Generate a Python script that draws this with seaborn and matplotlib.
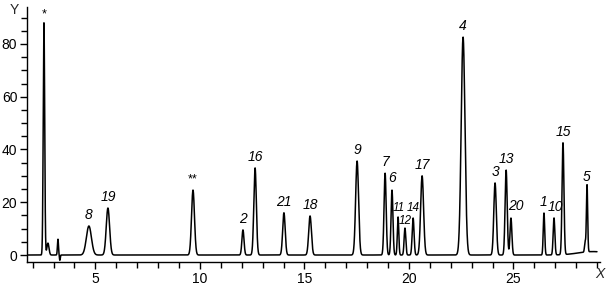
import numpy as np
import pandas as pd
import matplotlib
matplotlib.use("Agg")
import matplotlib.pyplot as plt
import seaborn as sns
from matplotlib.ticker import MultipleLocator

# ---- data ----
peak_labels = ["*", "", "", "", "8", "19", "**", "2", "16", "21", "18", "9", "7", "6",
               "11", "12", "14", "17", "4", "3", "13", "20", "1", "10", "15", "", "5", ""]
peak_rt = [2.54, 2.73, 3.21, 3.30, 4.69, 5.60, 9.67, 12.06, 12.64, 14.02, 15.27, 17.52,
           18.86, 19.19, 19.48, 19.81, 20.20, 20.63, 22.59, 24.12, 24.65, 24.88, 26.46,
           26.94, 27.37, 28.43, 28.52, 28.80]
peak_height = [88.0, 4.5, 6.0, -2.0, 11.0, 17.8, 24.6, 9.5, 33.0, 16.0, 14.8, 35.6,
               31.0, 24.6, 14.4, 10.2, 14.0, 30.0, 82.6, 27.3, 32.2, 14.0, 15.9,
               14.0, 42.4, 4.0, 25.4, 1.3]
peak_sigma = [0.035, 0.05, 0.025, 0.02, 0.12, 0.08, 0.07, 0.05, 0.06, 0.06, 0.065, 0.07,
              0.05, 0.045, 0.035, 0.04, 0.045, 0.07, 0.09, 0.06, 0.05, 0.045, 0.035,
              0.04, 0.045, 0.03, 0.03, 0.7]

x_ticks = [5, 10, 15, 20, 25]
y_ticks = [0, 20, 40, 60, 80]

# ---- build trace ----
t = np.arange(1.78, 29.0, 0.004)
signal = np.zeros_like(t)
for rt, h, s in zip(peak_rt, peak_height, peak_sigma):
    signal += h * np.exp(-0.5 * ((t - rt) / s) ** 2)
df = pd.DataFrame({"time": t, "signal": signal})

sns.set_style("ticks")
plt.rcParams["font.family"] = ["Liberation Sans", "DejaVu Sans"]

fig = plt.figure(figsize=(6.10, 2.87), dpi=100)
ax = fig.add_axes([0.0443, 0.0871, 0.9393, 0.8885])
sns.lineplot(data=df, x="time", y="signal", ax=ax, color="black", linewidth=1.1,
             estimator=None, sort=False)

ax.set_xlim(1.73, 29.14)
ax.set_ylim(-2.65, 94.0)
ax.set_xticks(x_ticks)
ax.set_yticks(y_ticks)
ax.xaxis.set_minor_locator(MultipleLocator(1))
ax.yaxis.set_minor_locator(MultipleLocator(5))
ax.tick_params(axis="both", which="major", length=5, width=1.0, labelsize=10,
               color="black", labelcolor="black", pad=2)
ax.tick_params(axis="both", which="minor", length=4, width=1.0, color="black")
ax.set_xlabel("")
ax.set_ylabel("")
for side in ["top", "right"]:
    ax.spines[side].set_visible(False)
for side in ["left", "bottom"]:
    ax.spines[side].set_linewidth(1.0)
    ax.spines[side].set_color("black")

# label placement (style only): (dx, dy in data units, fontsize)
offsets = {"11": (0.04, 1.0, 8.5), "12": (0.02, 0.6, 8.5), "14": (0.02, 1.4, 8.5),
           "20": (0.25, 1.8, 10), "10": (0.05, 1.6, 10), "6": (0.02, 2.0, 10),
           "*": (0.0, 1.0, 9), "**": (0.0, 1.6, 9)}
for lab, rt, h in zip(peak_labels, peak_rt, peak_height):
    if not lab:
        continue
    dx, dy, fs = offsets.get(lab, (0.0, 1.6, 10))
    if lab.startswith("*"):
        ax.text(rt + dx, h + dy, lab, ha="center", va="bottom", fontsize=fs,
                color="black")
    else:
        ax.text(rt + dx, h + dy, lab, ha="center", va="bottom", fontsize=fs,
                style="italic", color="black")

fig.text(14 / 610, 1 - 10 / 287, "Y", ha="center", va="center", fontsize=10)
fig.text(600 / 610, 1 - 274 / 287, "X", ha="center", va="center", fontsize=10,
         style="italic")

fig.savefig("out.png", dpi=100)
